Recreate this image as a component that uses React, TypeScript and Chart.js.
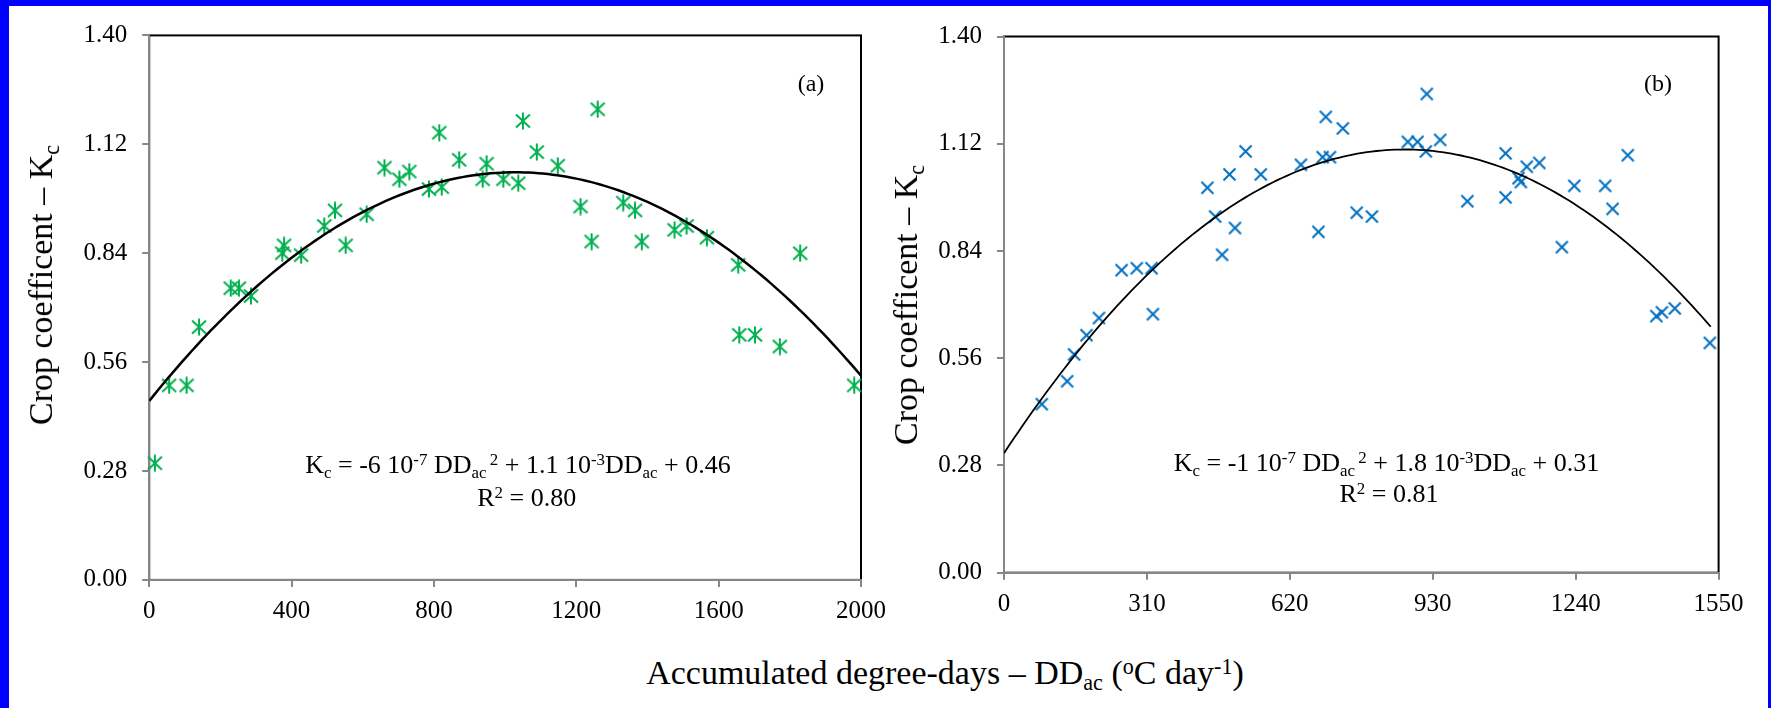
import React, { useEffect, useRef } from "react";
import { Chart, registerables } from "chart.js";

Chart.register(...registerables);

// ---------- data ----------
// Panel (a)
const A_DD = [16, 56, 105, 140, 229, 252, 286, 374, 379, 427, 492, 522, 552, 611, 661, 703, 731, 786, 815, 822, 871, 937, 948, 995, 1037, 1050, 1089, 1148, 1212, 1243, 1260, 1332, 1365, 1384, 1476, 1510, 1567, 1655, 1658, 1702, 1772, 1829, 1981];
const A_KC = [0.30, 0.50, 0.50, 0.65, 0.75, 0.75, 0.73, 0.84, 0.86, 0.835, 0.91, 0.95, 0.86, 0.94, 1.06, 1.03, 1.05, 1.005, 1.15, 1.01, 1.08, 1.03, 1.07, 1.03, 1.02, 1.18, 1.10, 1.065, 0.96, 0.87, 1.21, 0.97, 0.95, 0.87, 0.90, 0.91, 0.88, 0.81, 0.63, 0.63, 0.60, 0.84, 0.50];
// Panel (b)
const B_DD = [82, 137, 152, 179, 206, 255, 288, 320, 323, 441, 458, 473, 489, 501, 524, 557, 644, 682, 691, 698, 707, 735, 765, 798, 876, 897, 915, 917, 946, 1005, 1088, 1088, 1116, 1121, 1134, 1161, 1210, 1237, 1304, 1320, 1353, 1415, 1427, 1455, 1531];
const B_KC = [0.44, 0.50, 0.57, 0.62, 0.665, 0.79, 0.795, 0.795, 0.675, 1.005, 0.93, 0.83, 1.04, 0.90, 1.10, 1.04, 1.065, 0.89, 1.085, 1.19, 1.085, 1.16, 0.94, 0.93, 1.125, 1.125, 1.10, 1.25, 1.13, 0.97, 1.095, 0.98, 1.03, 1.02, 1.06, 1.07, 0.85, 1.01, 1.01, 0.95, 1.09, 0.67, 0.68, 0.69, 0.60];

// polynomial trendlines (a, b, c) for a*x^2 + b*x + c, and their x-extent
const A_TREND = [-5.55e-7, 1.1425e-3, 0.46];
const A_TREND_RANGE = [0, 2000];
const B_TREND = [-1.05e-6, 1.825e-3, 0.312];
const B_TREND_RANGE = [0, 1533];

// tick labels
const A_X_TICKS = [0, 400, 800, 1200, 1600, 2000];
const B_X_TICKS = [0, 310, 620, 930, 1240, 1550];
const Y_TICKS = [0, 0.28, 0.56, 0.84, 1.12, 1.4];

const SERIF = "'Liberation Serif', 'Times New Roman', Times, serif";
const GREEN = "#00B050";
const BLUE = "#0070C0";
const AXIS_GREY = "#868686";

function makeStar(color: string) {
  const c = document.createElement("canvas");
  c.width = 18;
  c.height = 18;
  const g = c.getContext("2d")!;
  g.strokeStyle = color;
  g.lineWidth = 2;
  g.beginPath();
  g.moveTo(2, 2.5);
  g.lineTo(16, 15.5);
  g.moveTo(16, 2.5);
  g.lineTo(2, 15.5);
  g.moveTo(9, 0.5);
  g.lineTo(9, 17.5);
  g.stroke();
  return c;
}

function makeCross(color: string) {
  const c = document.createElement("canvas");
  c.width = 15;
  c.height = 15;
  const g = c.getContext("2d")!;
  g.strokeStyle = color;
  g.lineWidth = 2;
  g.beginPath();
  g.moveTo(1.5, 1.5);
  g.lineTo(13.5, 13.5);
  g.moveTo(13.5, 1.5);
  g.lineTo(1.5, 13.5);
  g.stroke();
  return c;
}

function trendPoints(coef: number[], range: number[]) {
  const pts: { x: number; y: number }[] = [];
  const n = 150;
  for (let i = 0; i <= n; i++) {
    const x = range[0] + ((range[1] - range[0]) * i) / n;
    pts.push({ x, y: coef[0] * x * x + coef[1] * x + coef[2] });
  }
  return pts;
}

const framePlugin = {
  id: "frame",
  beforeDraw(chart: any) {
    const { ctx, chartArea } = chart;
    ctx.save();
    ctx.strokeStyle = "#000";
    ctx.lineWidth = 2;
    ctx.strokeRect(chartArea.left, chartArea.top, chartArea.right - chartArea.left, chartArea.bottom - chartArea.top);
    ctx.restore();
  },
};

type Area = { left: number; top: number; right: number; bottom: number };

function Panel(props: {
  x: number;
  y: number;
  w: number;
  h: number;
  area: Area;
  dd: number[];
  kc: number[];
  marker: "star" | "cross";
  color: string;
  trend: number[];
  trendRange: number[];
  trendWidth: number;
  xTicks: number[];
}) {
  const ref = useRef<HTMLCanvasElement>(null);
  useEffect(() => {
    const { w, h, area, dd, kc, xTicks } = props;
    const markerImg = props.marker === "star" ? makeStar(props.color) : makeCross(props.color);
    const pts = dd.map((v, i) => ({ x: v, y: kc[i] }));
    const tickFont = { family: SERIF, size: 25 };
    const chart = new Chart(ref.current!, {
      type: "scatter",
      data: {
        datasets: [
          {
            type: "line",
            data: trendPoints(props.trend, props.trendRange),
            borderColor: "#000",
            borderWidth: props.trendWidth,
            pointRadius: 0,
            fill: false,
            tension: 0,
          } as any,
          {
            type: "scatter",
            data: pts,
            pointStyle: markerImg as any,
            pointRadius: 8,
            borderColor: props.color,
            backgroundColor: props.color,
            clip: false as any,
          } as any,
        ],
      },
      options: {
        responsive: false,
        animation: false,
        devicePixelRatio: 1,
        events: [],
        layout: { padding: { left: 0, top: area.top, right: w - area.right, bottom: 0 } },
        plugins: { legend: { display: false }, tooltip: { enabled: false } },
        scales: {
          x: {
            type: "linear",
            min: xTicks[0],
            max: xTicks[xTicks.length - 1],
            afterBuildTicks: (s: any) => {
              s.ticks = xTicks.map((v) => ({ value: v }));
            },
            afterFit: (s: any) => {
              s.height = h - area.bottom;
            },
            grid: { drawOnChartArea: false, drawTicks: true, tickLength: 7, color: AXIS_GREY, lineWidth: 2 },
            border: { display: true, color: AXIS_GREY, width: 2 },
            ticks: {
              font: tickFont,
              color: "#000",
              padding: 10,
              maxRotation: 0,
              autoSkip: false,
              callback: (v: any) => String(v),
            },
          },
          y: {
            type: "linear",
            min: 0,
            max: 1.4,
            afterBuildTicks: (s: any) => {
              s.ticks = Y_TICKS.map((v) => ({ value: v }));
            },
            afterFit: (s: any) => {
              s.width = area.left;
            },
            grid: { drawOnChartArea: false, drawTicks: true, tickLength: 7, color: AXIS_GREY, lineWidth: 2 },
            border: { display: true, color: AXIS_GREY, width: 2 },
            ticks: {
              font: tickFont,
              color: "#000",
              padding: 15,
              autoSkip: false,
              callback: (v: any) => Number(v).toFixed(2),
            },
          },
        },
      } as any,
      plugins: [framePlugin],
    });
    return () => chart.destroy();
  }, []);
  return (
    <canvas
      ref={ref}
      width={props.w}
      height={props.h}
      style={{ position: "absolute", left: props.x, top: props.y, width: props.w, height: props.h }}
    />
  );
}

const Sub = ({ children }: { children: React.ReactNode }) => (
  <span style={{ fontSize: "0.65em", position: "relative", top: "0.3em" }}>{children}</span>
);
const Sup = ({ children, ml }: { children: React.ReactNode; ml?: string }) => (
  <span style={{ fontSize: "0.65em", position: "relative", top: "-0.45em", marginLeft: ml }}>{children}</span>
);

const textBase: React.CSSProperties = {
  position: "absolute",
  fontFamily: SERIF,
  color: "#000",
  lineHeight: 1,
  whiteSpace: "nowrap",
};

export default function App() {
  useEffect(() => {
    document.body.style.margin = "0";
  }, []);
  return (
    <div style={{ position: "fixed", left: 0, top: 0, width: 1771, height: 708, background: "#0000FF", overflow: "hidden" }}>
      <div style={{ position: "absolute", left: 9, top: 6, width: 1759, height: 702, background: "#ffffff" }} />

      <Panel
        x={0}
        y={0}
        w={905}
        h={640}
        area={{ left: 149.2, top: 35.4, right: 861, bottom: 579.9 }}
        dd={A_DD}
        kc={A_KC}
        marker="star"
        color={GREEN}
        trend={A_TREND}
        trendRange={A_TREND_RANGE}
        trendWidth={2.5}
        xTicks={A_X_TICKS}
      />
      <Panel
        x={880}
        y={0}
        w={891}
        h={640}
        area={{ left: 124, top: 36.5, right: 838.6, bottom: 572.7 }}
        dd={B_DD}
        kc={B_KC}
        marker="cross"
        color={BLUE}
        trend={B_TREND}
        trendRange={B_TREND_RANGE}
        trendWidth={1.8}
        xTicks={B_X_TICKS}
      />

      {/* y-axis titles */}
      <div style={{ ...textBase, left: 40.5, top: 285, fontSize: 34, transform: "translate(-50%,-50%) rotate(-90deg)" }}>
        Crop coefficent – K<Sub>c</Sub>
      </div>
      <div style={{ ...textBase, left: 906, top: 305, fontSize: 34, transform: "translate(-50%,-50%) rotate(-90deg)" }}>
        Crop coefficent – K<Sub>c</Sub>
      </div>

      {/* panel labels */}
      <div style={{ ...textBase, left: 811, top: 71, fontSize: 24, transform: "translateX(-50%)" }}>(a)</div>
      <div style={{ ...textBase, left: 1658, top: 71, fontSize: 24, transform: "translateX(-50%)" }}>(b)</div>

      {/* equations */}
      <div style={{ ...textBase, left: 518, top: 452, fontSize: 26, transform: "translateX(-50%)" }}>
        K<Sub>c</Sub> = -6 10<Sup>-7</Sup> DD<Sub>ac</Sub>
        <Sup ml="0.2em">2</Sup> + 1.1 10<Sup>-3</Sup>DD<Sub>ac</Sub> + 0.46
      </div>
      <div style={{ ...textBase, left: 526.7, top: 485, fontSize: 26, transform: "translateX(-50%)" }}>
        R<Sup>2</Sup> = 0.80
      </div>
      <div style={{ ...textBase, left: 1386.5, top: 450, fontSize: 26, transform: "translateX(-50%)" }}>
        K<Sub>c</Sub> = -1 10<Sup>-7</Sup> DD<Sub>ac</Sub>
        <Sup ml="0.2em">2</Sup> + 1.8 10<Sup>-3</Sup>DD<Sub>ac</Sub> + 0.31
      </div>
      <div style={{ ...textBase, left: 1389, top: 481, fontSize: 26, transform: "translateX(-50%)" }}>
        R<Sup>2</Sup> = 0.81
      </div>

      {/* shared x-axis title */}
      <div style={{ ...textBase, left: 945, top: 655.5, fontSize: 34, transform: "translateX(-50%)" }}>
        Accumulated degree-days – DD<Sub>ac</Sub> (<Sup>o</Sup>C day<Sup>-1</Sup>)
      </div>
    </div>
  );
}
